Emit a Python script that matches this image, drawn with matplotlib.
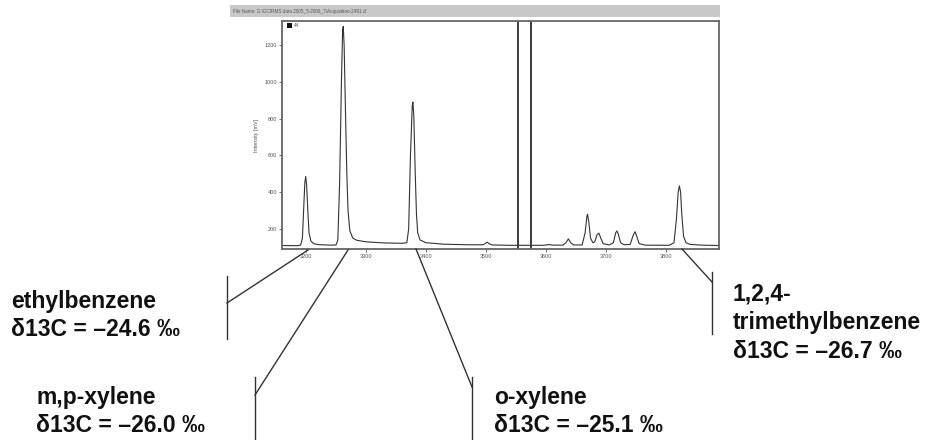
"""GC-IRMS chromatogram (m/z 44) with delta-13C labels for the BTEX peaks."""

import matplotlib
matplotlib.use("Agg")
import matplotlib.pyplot as plt
from matplotlib.patches import Rectangle
from matplotlib.lines import Line2D

plt.rcParams["font.family"] = ["Liberation Sans", "DejaVu Sans"]

# trace: retention time (s) and intensity (mV)
TIME_S = [3160, 3185, 3191, 3194, 3196, 3198, 3199.5, 3201, 3203, 3205, 3208, 3213, 3220,
          3240, 3250, 3253, 3256, 3259, 3261, 3262, 3263.5, 3266, 3268, 3270, 3273, 3278,
          3285, 3300, 3330, 3360, 3368, 3371, 3374, 3377, 3378, 3379.5, 3382, 3384, 3386,
          3390, 3400, 3430, 3470, 3495, 3499, 3502, 3505, 3510, 3540, 3595, 3602, 3606,
          3610, 3628, 3633, 3637, 3641, 3646, 3660, 3665, 3668, 3669, 3671, 3674, 3678,
          3681, 3685, 3688, 3691, 3695, 3705, 3712, 3716, 3718, 3720, 3724, 3730, 3740,
          3745, 3748, 3751, 3755, 3765, 3805, 3813, 3817, 3820, 3822, 3824, 3826, 3829,
          3833, 3840, 3860, 3888]
INTENSITY_MV = [110, 109, 112, 150, 300, 450, 485, 440, 300, 180, 135, 120, 115,
                112, 113, 140, 450, 1000, 1280, 1300, 1200, 800, 500, 300, 190, 150,
                138, 130, 124, 122, 125, 200, 600, 870, 890, 820, 500, 280, 180,
                140, 125, 117, 114, 114, 122, 128, 120, 113, 111, 111, 114, 115,
                112, 112, 125, 146, 125, 113, 113, 180, 270, 280, 240, 150, 125,
                130, 170, 177, 150, 120, 113, 125, 180, 189, 175, 125, 114, 116,
                165, 185, 160, 120, 112, 111, 125, 250, 400, 434, 400, 280, 160,
                125, 116, 112, 110]
REF_MARKS_S = [3553, 3575]

X_TICKS = [3200, 3300, 3400, 3500, 3600, 3700, 3800]
Y_TICKS = [200, 400, 600, 800, 1000, 1200]

FILE_NAME = "File Name: G:\\GCIRMS data 2005_5-2006_7\\Acquisition-2491.cf"

# label text, text anchor (fig px), bracket x, bracket y-range, elbow y, peak end (fig px)
LABELS = [
    ("ethylbenzene\nδ13C = –24.6 ‰", (11, 290), 227, (276, 339), 303, (308, 250)),
    ("m,p-xylene\nδ13C = –26.0 ‰", (36, 386), 255, (377, 440), 395, (348, 250)),
    ("o-xylene\nδ13C = –25.1 ‰", (494, 386), 472, (377, 440), 387, (416, 249)),
    ("1,2,4-\ntrimethylbenzene\nδ13C = –26.7 ‰", (733, 283), 712, (272, 334), 282, (682, 249)),
]

W, H = 933, 440


def fx(px):
    return px / W


def fy(py):
    return 1 - py / H


def main():
    fig = plt.figure(figsize=(W / 100, H / 100), dpi=100)

    # header bar
    fig.patches.append(Rectangle((fx(230), fy(17)), fx(720) - fx(230), fy(5) - fy(17),
                                 transform=fig.transFigure, facecolor="#c8c8c8",
                                 edgecolor="none"))
    fig.text(fx(233), fy(11), FILE_NAME, fontsize=3.3, color="#555555", va="center")

    ax = fig.add_axes([fx(282), fy(249), fx(719) - fx(282), fy(21) - fy(249)])
    ax.plot(TIME_S, INTENSITY_MV, color="#333333", linewidth=0.8)
    for t in REF_MARKS_S:
        ax.axvline(t, color="#3a3a3a", linewidth=1.4)
    ax.set_xlim(3160, 3888)
    ax.set_ylim(91, 1330)
    ax.set_xticks(X_TICKS)
    ax.set_yticks(Y_TICKS)
    ax.tick_params(labelsize=4, colors="#555555", length=2, width=0.6, pad=1.5)
    ax.set_ylabel("Intensity [mV]", fontsize=4, color="#555555", labelpad=4)
    for s in ax.spines.values():
        s.set_color("#666666")
        s.set_linewidth(1.3)

    # legend swatch
    fig.patches.append(Rectangle((fx(287), fy(28)), fx(5), fy(23) - fy(28),
                                 transform=fig.transFigure, facecolor="#111111"))
    fig.text(fx(294), fy(25.5), "44", fontsize=3.3, color="#555555", va="center")

    for text, (tx, ty), bx, (by0, by1), ey, (px, py) in LABELS:
        fig.add_artist(Line2D([fx(bx), fx(bx)], [fy(by0), fy(by1)],
                              transform=fig.transFigure, color="#333333", linewidth=1))
        fig.add_artist(Line2D([fx(bx), fx(px)], [fy(ey), fy(py)],
                              transform=fig.transFigure, color="#333333", linewidth=1))
        fig.text(fx(tx), fy(ty), text, fontsize=16.5, fontweight="bold", color="#111111",
                 va="top", ha="left", linespacing=1.3)

    fig.savefig("out.png", dpi=100)


if __name__ == "__main__":
    main()
